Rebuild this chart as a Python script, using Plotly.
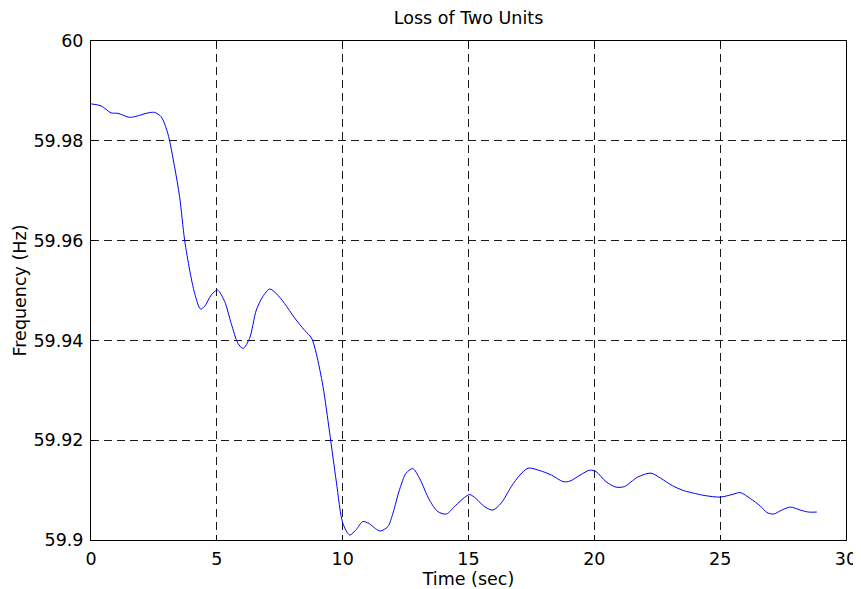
import plotly.graph_objects as go

time_s = [0, 0.4, 0.8, 1.07, 1.53, 1.86, 2.19, 2.52, 2.79, 3.05, 3.32, 3.52, 3.72, 3.92,
          4.12, 4.35, 4.51, 4.78, 5.02, 5.31, 5.57, 5.84, 6.04, 6.3, 6.57, 6.83, 7.1, 7.36,
          7.69, 8.09, 8.49, 8.76, 8.95, 9.22, 9.48, 9.75, 10.01, 10.28, 10.54, 10.8, 11.05,
          11.3, 11.5, 11.8, 12.0, 12.26, 12.52, 12.79, 13.05, 13.45, 13.78, 14.12, 14.5,
          15.04, 15.3, 15.63, 15.97, 16.3, 16.7, 17.04, 17.37, 17.84, 18.3, 18.76, 19.03,
          19.43, 19.82, 20.07, 20.46, 20.86, 21.19, 21.72, 22.25, 22.63, 23.1, 23.55, 24.02,
          24.4, 25.0, 25.47, 25.8, 26.2, 26.6, 26.86, 27.12, 27.45, 27.79, 28.18, 28.51, 28.84]
freq_hz = [59.9874, 59.9870, 59.9856, 59.9855, 59.9847, 59.9850, 59.9855, 59.9857, 59.9848,
           59.9815, 59.9748, 59.9688, 59.9601, 59.9541, 59.9494, 59.9463, 59.9468, 59.9491,
           59.9501, 59.9478, 59.9434, 59.9394, 59.9384, 59.9404, 59.9461, 59.9488, 59.9503,
           59.9494, 59.9474, 59.9445, 59.9420, 59.9405, 59.9374, 59.9307, 59.9216, 59.9116,
           59.9033, 59.9010, 59.9021, 59.9037, 59.9033, 59.9023, 59.9018, 59.9027, 59.9054,
           59.9101, 59.9134, 59.9143, 59.9124, 59.9080, 59.9057, 59.9052, 59.9070, 59.9091,
           59.9083, 59.9067, 59.9060, 59.9074, 59.9107, 59.9130, 59.9144, 59.9139, 59.9130,
           59.9117, 59.9118, 59.9130, 59.9140, 59.9137, 59.9117, 59.9106, 59.9107, 59.9126,
           59.9134, 59.9124, 59.9109, 59.9099, 59.9093, 59.9089, 59.9086, 59.9091, 59.9095,
           59.9083, 59.9068, 59.9055, 59.9052, 59.9060, 59.9066, 59.9060, 59.9056, 59.9056]

x_ticks = [0, 5, 10, 15, 20, 25, 30]
y_ticks = [59.9, 59.92, 59.94, 59.96, 59.98, 60.0]
y_tick_labels = ["59.9", "59.92", "59.94", "59.96", "59.98", "60"]

fig = go.Figure()
fig.add_trace(go.Scatter(x=time_s, y=freq_hz, mode="lines",
                         line=dict(color="#0000ff", width=1, shape="spline", smoothing=0.8),
                         showlegend=False, hoverinfo="skip"))

font = dict(family="DejaVu Sans, Arial, sans-serif", size=17.5, color="black")
axis_common = dict(showline=True, linecolor="black", linewidth=1, mirror="allticks",
                   ticks="inside", ticklen=5, tickcolor="black", showgrid=True,
                   gridcolor="#1a1a1a", griddash="8px,5px", gridwidth=1, zeroline=False,
                   tickfont=font, automargin=False, ticklabelstandoff=3)

# the page body adds an 8px offset, so margins are shifted to compensate
fig.update_layout(
    width=861, height=589,
    paper_bgcolor="white", plot_bgcolor="white",
    margin=dict(l=83, r=23, t=33, b=57),
    title=dict(text="Loss of Two Units", x=0.5, xref="paper", y=1 - 10 / 589,
               yref="container", font=font, xanchor="center", yanchor="middle"),
    font=font,
)
fig.update_xaxes(range=[0, 30], tickvals=x_ticks, **axis_common,
                 title=dict(text="Time (sec)", font=font, standoff=2))
fig.update_yaxes(range=[59.9, 60.0], tickvals=y_ticks, ticktext=y_tick_labels, **axis_common,
                 title=dict(text="Frequency (Hz)", font=font, standoff=2))

fig.write_html("out.html")
